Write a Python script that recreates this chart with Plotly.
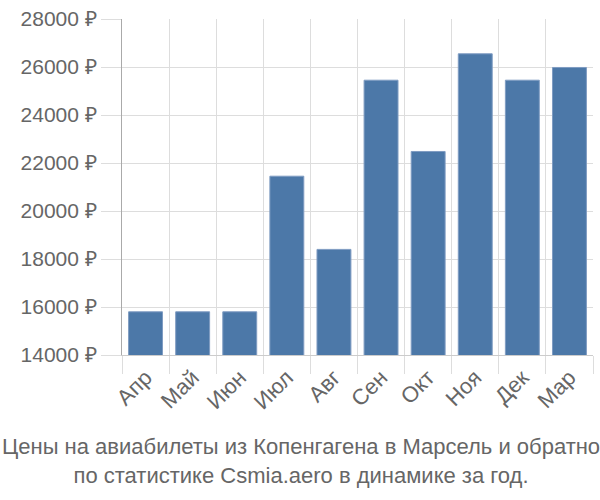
import plotly.graph_objects as go

months = ["Апр", "Май", "Июн", "Июл", "Авг", "Сен", "Окт", "Ноя", "Дек", "Мар"]
prices = [15800, 15800, 15800, 21450, 18400, 25450, 22480, 26550, 25450, 25980]
y_ticks = [14000, 16000, 18000, 20000, 22000, 24000, 26000, 28000]
y_tick_labels = ["14000 ₽", "16000 ₽", "18000 ₽", "20000 ₽", "22000 ₽", "24000 ₽", "26000 ₽", "28000 ₽"]
title_lines = ["Цены на авиабилеты из Копенгагена в Марсель и обратно",
               "по статистике Csmia.aero в динамике за год."]

grid = "#dddddd"
fig = go.Figure(go.Bar(
    x=months, y=prices,
    marker=dict(color="#4c78a8", line=dict(color="#7f9cc2", width=1)),
    width=0.72,
))
fig.update_layout(
    width=600, height=500,
    margin=dict(l=122, r=7, t=15, b=145),
    plot_bgcolor="white", paper_bgcolor="white",
    font=dict(family="Liberation Sans, Arial, sans-serif", color="#666666", size=20),
    showlegend=False,
    annotations=[dict(
        text="<br>".join(title_lines), x=0.5, xref="paper", xanchor="center",
        y=-0.228, yref="paper", yanchor="top", showarrow=False,
        font=dict(size=22, color="#666666"), xshift=-57,
    )],
)
fig.update_yaxes(
    range=[14000, 28000], tickvals=y_ticks, ticktext=y_tick_labels,
    showgrid=True, gridcolor=grid, gridwidth=1,
    ticks="outside", ticklen=20, tickcolor=grid, tickwidth=1,
    showline=True, linecolor="#aaaaaa", linewidth=1,
    zeroline=False, tickfont=dict(size=21, color="#666666"),
)
fig.update_xaxes(
    tickson="boundaries", showgrid=True, gridcolor=grid, gridwidth=1,
    ticks="outside", ticklen=18, tickcolor=grid, tickwidth=1,
    showline=True, linecolor="#cccccc", linewidth=1,
    tickangle=-45, tickfont=dict(size=22, color="#666666"),
)
fig.write_html("out.html")
